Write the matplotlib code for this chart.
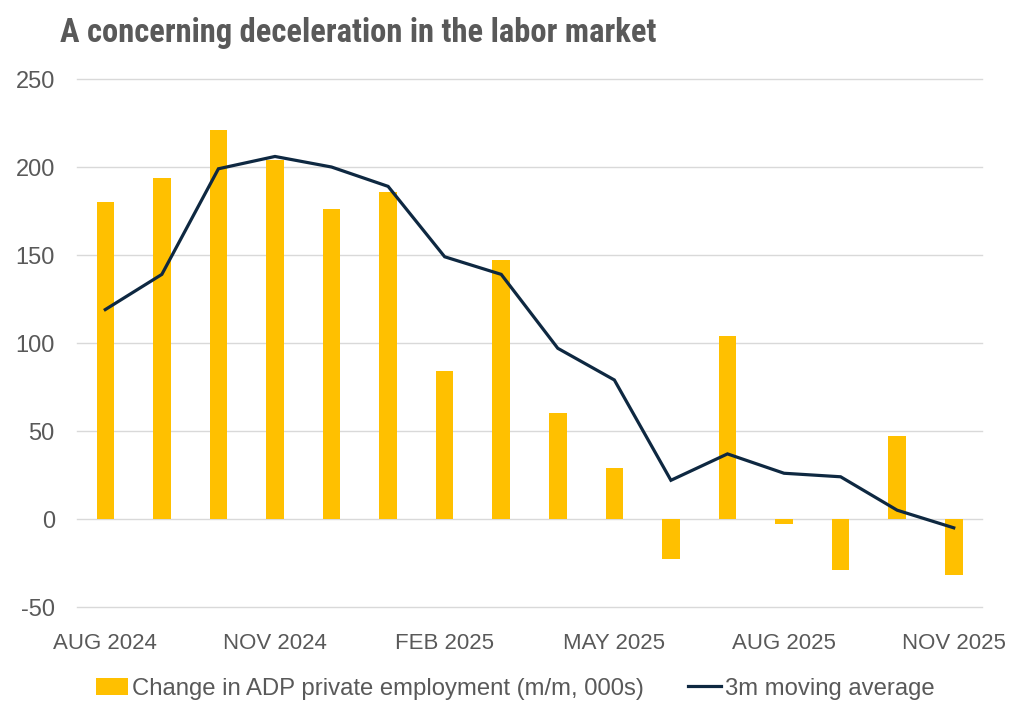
import matplotlib.pyplot as plt
import numpy as np
from matplotlib import font_manager

# monthly data, Aug 2024 - Nov 2025
months = ['AUG 2024', 'SEP 2024', 'OCT 2024', 'NOV 2024', 'DEC 2024', 'JAN 2025',
          'FEB 2025', 'MAR 2025', 'APR 2025', 'MAY 2025', 'JUN 2025', 'JUL 2025',
          'AUG 2025', 'SEP 2025', 'OCT 2025', 'NOV 2025']
adp_change = [180, 194, 221, 204, 176, 186, 84, 147, 60, 29, -23, 104, -3, -29, 47, -32]
moving_avg = [119, 139, 199, 206, 200, 189, 149, 139, 97, 79, 22, 37, 26, 24, 5, -5]
yticks = [-50, 0, 50, 100, 150, 200, 250]

# narrow font for the title if there is one
names = set(f.name for f in font_manager.fontManager.ttflist)
narrow = 'Roboto'
for cand in ['Aptos Narrow', 'Liberation Sans Narrow', 'Arial Narrow', 'Roboto Condensed',
             'Archivo Narrow', 'PT Sans Narrow', 'Fira Sans Condensed']:
    if cand in names:
        narrow = cand
        break

gray = '#595959'
body = 'Liberation Sans'

fig = plt.figure(figsize=(10.24, 7.21), dpi=100)
ax = fig.add_axes([0.0752, 0.1581, 0.8838, 0.7323])

x = np.arange(len(months))
bars = ax.bar(x, adp_change, width=0.31, color='#FFC000', zorder=2,
              label='Change in ADP private employment (m/m, 000s)')
line, = ax.plot(x, moving_avg, color='#0E2841', lw=2.3, zorder=3,
                solid_joinstyle='miter', label='3m moving average')

ax.set_ylim(-50, 250)
ax.set_xlim(-0.5, len(months) - 0.5)
ax.set_yticks(yticks)
ax.set_yticklabels([str(v) for v in yticks], fontsize=17, color=gray, family=body)
ax.set_xticks(x[::3])
ax.set_xticklabels(months[::3], fontsize=16, color=gray, family=body)
ax.tick_params(axis='y', length=0, pad=16)
ax.tick_params(axis='x', length=0, pad=19)
ax.grid(axis='y', color='#D9D9D9', lw=1, zorder=0)
for gl in ax.get_ygridlines():
    gl.set_clip_on(False)
for s in ax.spines.values():
    s.set_visible(False)

fig.text(0.0586, 0.954, 'A concerning deceleration in the labor market',
         fontsize=23.5, fontweight='bold', color=gray, family=narrow, va='center')

leg = fig.legend([bars, line], [bars.get_label(), line.get_label()],
                 loc='center', bbox_to_anchor=(0.503, 0.045), ncol=2, frameon=False,
                 prop={'family': body, 'size': 17.2}, handlelength=1.35,
                 handletextpad=0.17, columnspacing=1.85)
for t in leg.get_texts():
    t.set_color(gray)

fig.savefig('out.png', dpi=100)
